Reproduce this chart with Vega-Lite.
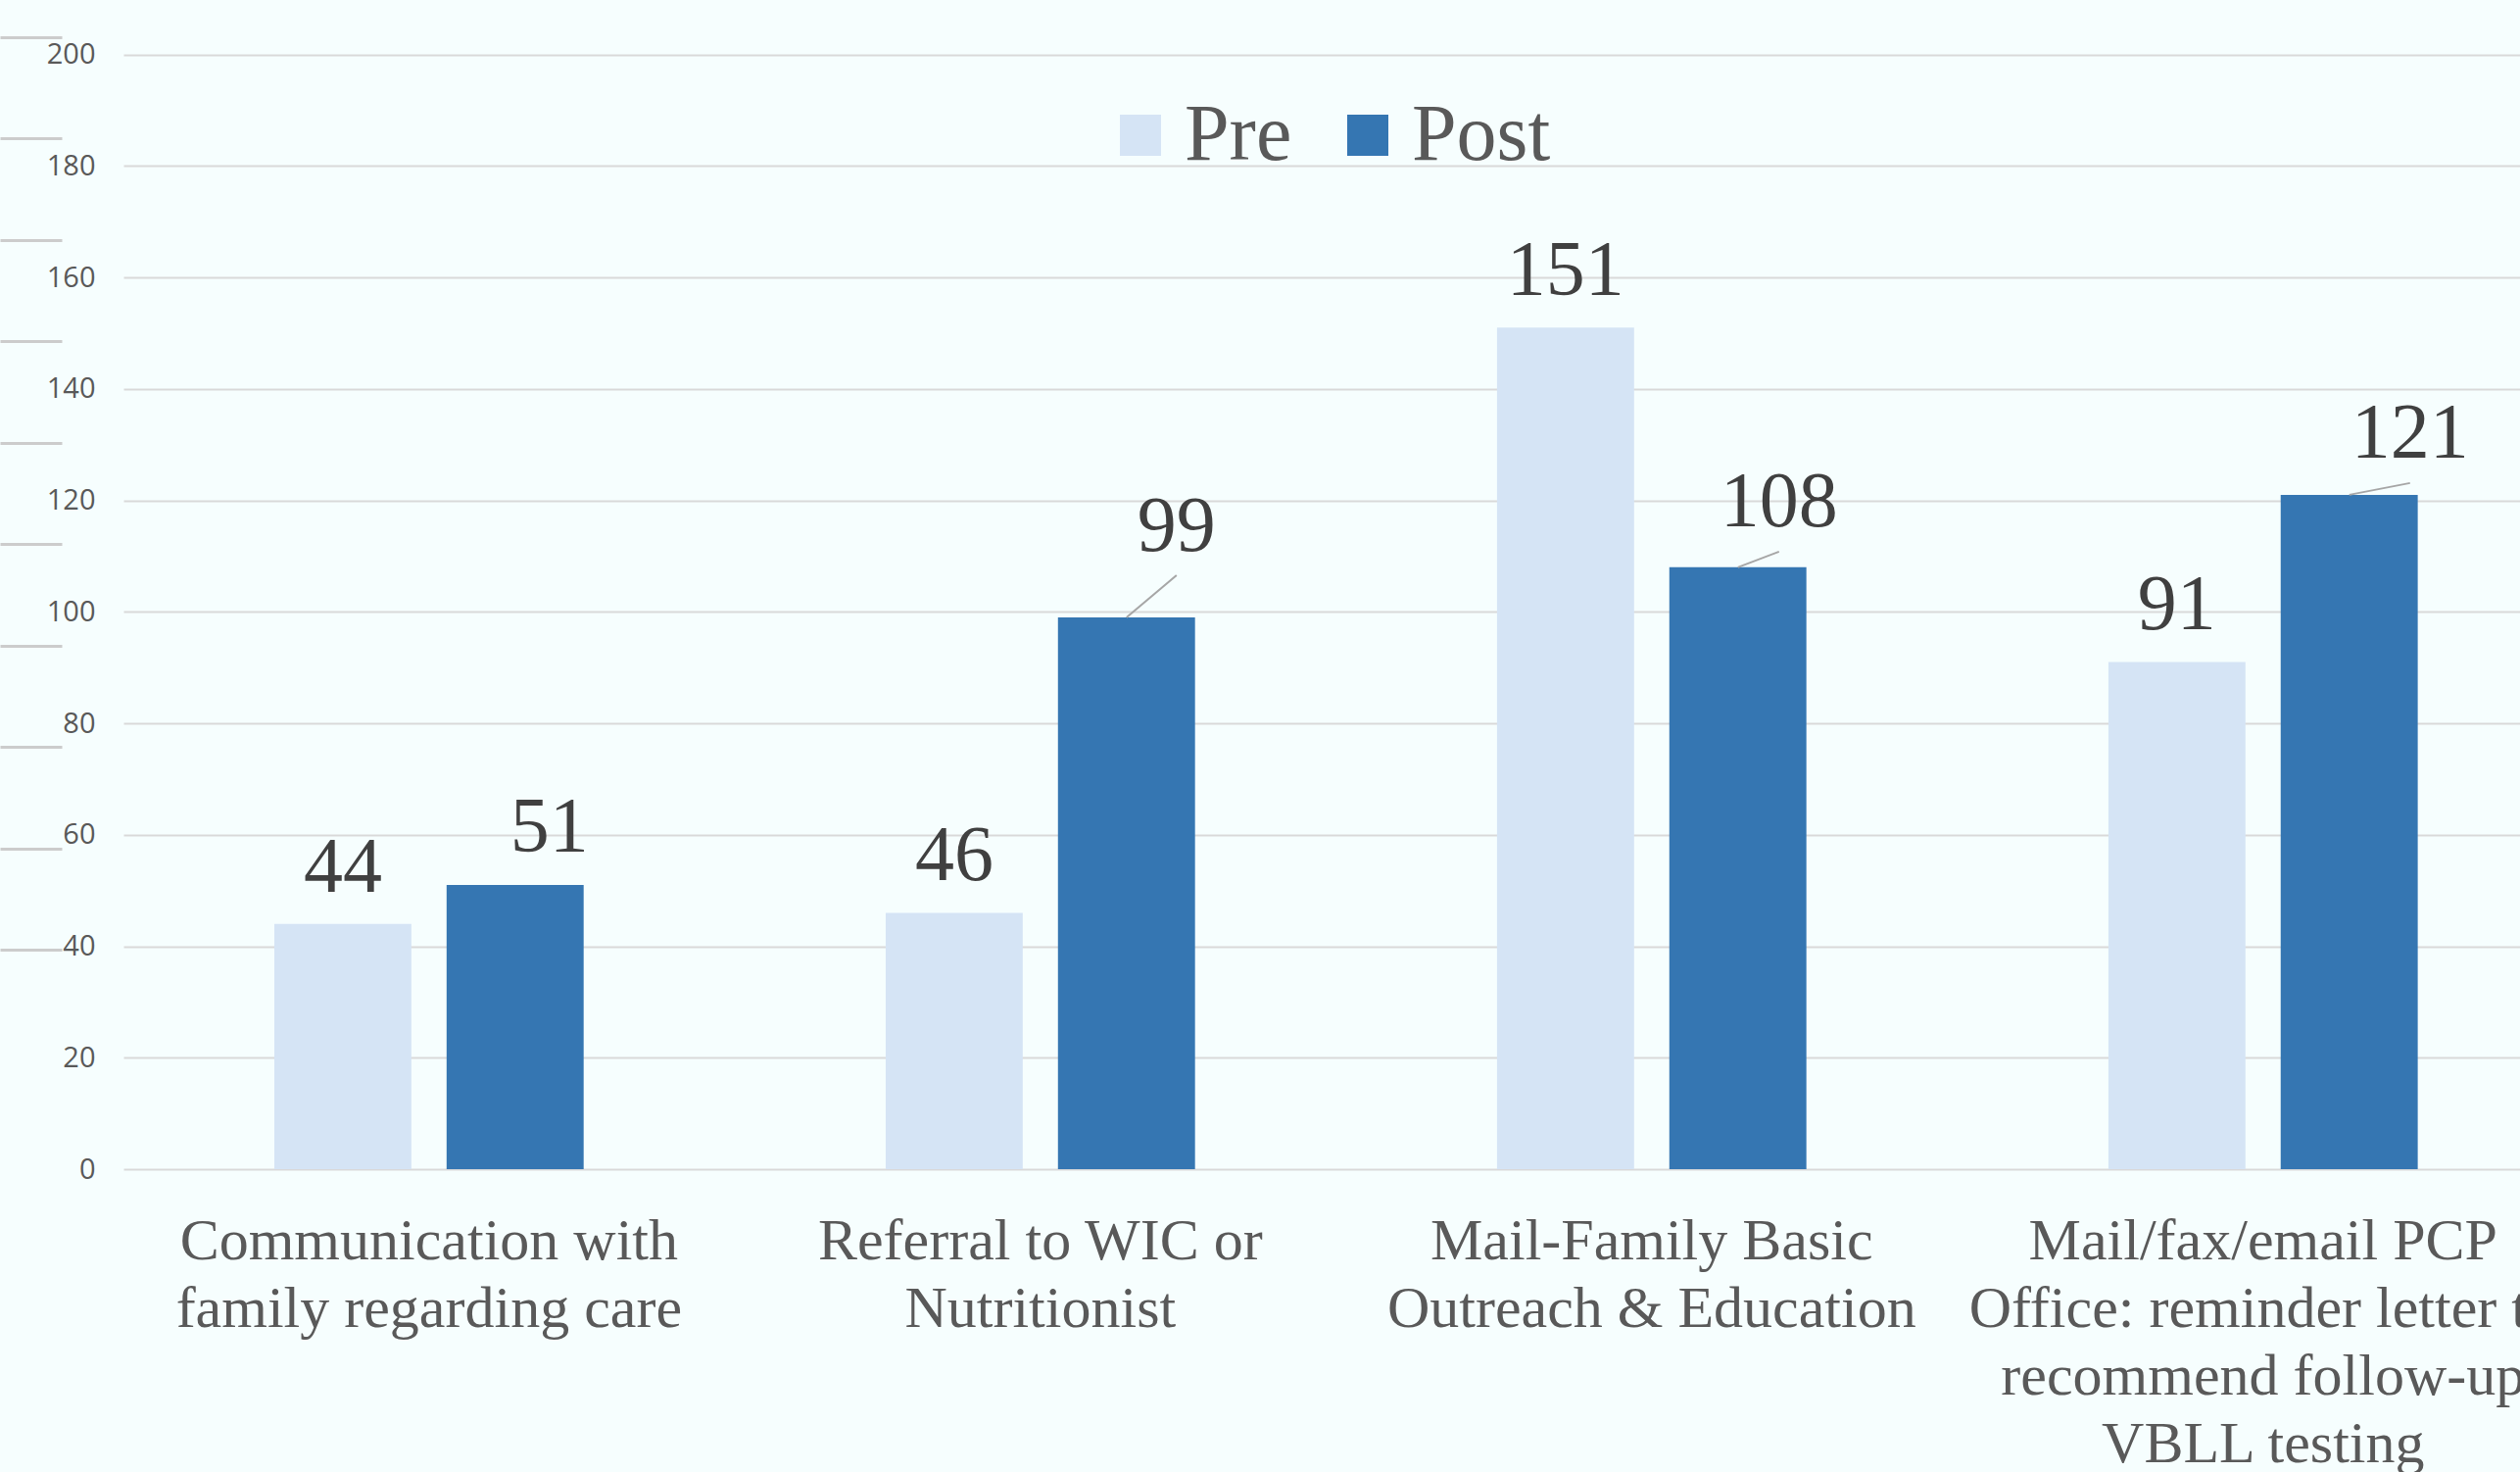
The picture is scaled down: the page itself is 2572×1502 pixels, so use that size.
{
  "$schema": "https://vega.github.io/schema/vega-lite/v6.json",
  "width": 2446,
  "height": 1155,
  "autosize": {"type": "none"},
  "padding": {"left": 126, "top": 38, "right": 0, "bottom": 309},
  "background": "#F6FEFE",
  "config": {"view": {"stroke": null}},
  "datasets": {
    "main": [
      {"cat": "Communication with\nfamily regarding care", "series": "Pre", "value": 44},
      {"cat": "Communication with\nfamily regarding care", "series": "Post", "value": 51},
      {"cat": "Referral to WIC or\nNutritionist", "series": "Pre", "value": 46},
      {"cat": "Referral to WIC or\nNutritionist", "series": "Post", "value": 99},
      {"cat": "Mail-Family Basic\nOutreach & Education", "series": "Pre", "value": 151},
      {"cat": "Mail-Family Basic\nOutreach & Education", "series": "Post", "value": 108},
      {"cat": "Mail/fax/email PCP\nOffice: reminder letter to\nrecommend follow-up\nVBLL testing", "series": "Pre", "value": 91},
      {"cat": "Mail/fax/email PCP\nOffice: reminder letter to\nrecommend follow-up\nVBLL testing", "series": "Post", "value": 121}
    ],
    "deco": [{"k": 0}, {"k": 9}]
  },
  "layer": [
    {
      "data": {"name": "main"},
      "layer": [
        {
          "mark": {"type": "bar"},
          "encoding": {
            "x": {
              "field": "cat", "type": "nominal", "sort": null,
              "scale": {"paddingInner": 0.494, "paddingOuter": 0.207, "align": 0.596},
              "axis": {
                "title": null, "labelAngle": 0, "ticks": false, "domain": false,
                "labelExpr": "split(datum.label, '\\n')",
                "labelFont": "Liberation Serif", "labelFontSize": 60, "labelLineHeight": 69,
                "labelColor": "#595959", "labelPadding": 44, "labelLimit": 2000,
                "labelOverlap": false, "labelBound": false, "labelFlush": false
              }
            },
            "xOffset": {"field": "series", "type": "nominal", "sort": ["Pre", "Post"], "scale": {"paddingInner": 0.2045, "paddingOuter": 0}},
            "y": {
              "field": "value", "type": "quantitative",
              "scale": {"domain": [0, 203.1], "nice": false},
              "axis": {
                "title": null, "values": [0, 20, 40, 60, 80, 100, 120, 140, 160, 180, 200],
                "ticks": false, "domain": false, "grid": true, "gridColor": "#D9D9D9", "gridWidth": 2,
                "labelFont": "Open Sans", "labelFontSize": 29, "labelColor": "#595959", "labelPadding": 29
              }
            },
            "color": {
              "field": "series", "type": "nominal", "sort": ["Pre", "Post"],
              "scale": {"domain": ["Pre", "Post"], "range": ["#D5E4F5", "#3576B2"]},
              "legend": {
                "orient": "none", "legendX": 997, "legendY": 59, "direction": "horizontal", "title": null,
                "symbolType": "square", "symbolSize": 1764, "symbolStrokeWidth": 0, "symbolOpacity": 1,
                "labelFont": "Liberation Serif", "labelFontSize": 82, "labelColor": "#595959",
                "labelOffset": 4, "columnPadding": 36, "padding": 0
              }
            }
          }
        },
        {
          "transform": [{"filter": "datum.series == 'Pre'"}],
          "mark": {"type": "text", "font": "Liberation Serif", "fontSize": 80, "color": "#404040", "baseline": "alphabetic", "align": "center", "dy": -33},
          "encoding": {
            "x": {"field": "cat", "type": "nominal", "sort": null},
            "xOffset": {"field": "series", "type": "nominal", "sort": ["Pre", "Post"]},
            "y": {"field": "value", "type": "quantitative"},
            "text": {"field": "value", "type": "quantitative"}
          }
        },
        {
          "transform": [{"filter": "datum.series == 'Post' && datum.value == 51"}],
          "mark": {"type": "text", "font": "Liberation Serif", "fontSize": 80, "color": "#404040", "baseline": "alphabetic", "align": "center", "dx": 35, "dy": -34},
          "encoding": {
            "x": {"field": "cat", "type": "nominal", "sort": null},
            "xOffset": {"field": "series", "type": "nominal", "sort": ["Pre", "Post"]},
            "y": {"field": "value", "type": "quantitative"},
            "text": {"field": "value", "type": "quantitative"}
          }
        },
        {
          "transform": [{"filter": "datum.series == 'Post' && datum.value == 99"}],
          "mark": {"type": "text", "font": "Liberation Serif", "fontSize": 80, "color": "#404040", "baseline": "alphabetic", "align": "center", "dx": 51, "dy": -68},
          "encoding": {
            "x": {"field": "cat", "type": "nominal", "sort": null},
            "xOffset": {"field": "series", "type": "nominal", "sort": ["Pre", "Post"]},
            "y": {"field": "value", "type": "quantitative"},
            "text": {"field": "value", "type": "quantitative"}
          }
        },
        {
          "transform": [{"filter": "datum.series == 'Post' && datum.value == 108"}],
          "mark": {"type": "text", "font": "Liberation Serif", "fontSize": 80, "color": "#404040", "baseline": "alphabetic", "align": "center", "dx": 42, "dy": -42},
          "encoding": {
            "x": {"field": "cat", "type": "nominal", "sort": null},
            "xOffset": {"field": "series", "type": "nominal", "sort": ["Pre", "Post"]},
            "y": {"field": "value", "type": "quantitative"},
            "text": {"field": "value", "type": "quantitative"}
          }
        },
        {
          "transform": [{"filter": "datum.series == 'Post' && datum.value == 121"}],
          "mark": {"type": "text", "font": "Liberation Serif", "fontSize": 80, "color": "#404040", "baseline": "alphabetic", "align": "center", "dx": 62, "dy": -38},
          "encoding": {
            "x": {"field": "cat", "type": "nominal", "sort": null},
            "xOffset": {"field": "series", "type": "nominal", "sort": ["Pre", "Post"]},
            "y": {"field": "value", "type": "quantitative"},
            "text": {"field": "value", "type": "quantitative"}
          }
        },
        {
          "transform": [{"filter": "datum.series == 'Post' && datum.value == 99"}],
          "mark": {"type": "rule", "color": "#A6A6A6", "strokeWidth": 2, "xOffset": 88, "x2Offset": 139, "y2Offset": -43},
          "encoding": {
            "x": {"field": "cat", "type": "nominal", "sort": null, "bandPosition": 0.5},
            "x2": {"field": "cat", "bandPosition": 0.5},
            "y": {"field": "value", "type": "quantitative"},
            "y2": {"field": "value"}
          }
        },
        {
          "transform": [{"filter": "datum.series == 'Post' && datum.value == 108"}],
          "mark": {"type": "rule", "color": "#A6A6A6", "strokeWidth": 2, "xOffset": 88, "x2Offset": 130, "y2Offset": -16},
          "encoding": {
            "x": {"field": "cat", "type": "nominal", "sort": null, "bandPosition": 0.5},
            "x2": {"field": "cat", "bandPosition": 0.5},
            "y": {"field": "value", "type": "quantitative"},
            "y2": {"field": "value"}
          }
        },
        {
          "transform": [{"filter": "datum.series == 'Post' && datum.value == 121"}],
          "mark": {"type": "rule", "color": "#A6A6A6", "strokeWidth": 2, "xOffset": 88, "x2Offset": 150, "y2Offset": -12},
          "encoding": {
            "x": {"field": "cat", "type": "nominal", "sort": null, "bandPosition": 0.5},
            "x2": {"field": "cat", "bandPosition": 0.5},
            "y": {"field": "value", "type": "quantitative"},
            "y2": {"field": "value"}
          }
        }
      ]
    },
    {
      "data": {"name": "deco"},
      "mark": {"type": "point", "opacity": 0},
      "encoding": {
        "y": {
          "field": "k", "type": "quantitative",
          "scale": {"domain": [-2.16, 9], "nice": false, "zero": false},
          "axis": {
            "orient": "left", "title": null, "values": [0, 1, 2, 3, 4, 5, 6, 7, 8, 9],
            "labels": false, "domain": false, "grid": false, "ticks": true,
            "tickSize": 63, "tickWidth": 3, "tickColor": "#CCCCCC", "offset": 63
          }
        }
      }
    }
  ],
  "resolve": {"scale": {"y": "independent"}}
}
